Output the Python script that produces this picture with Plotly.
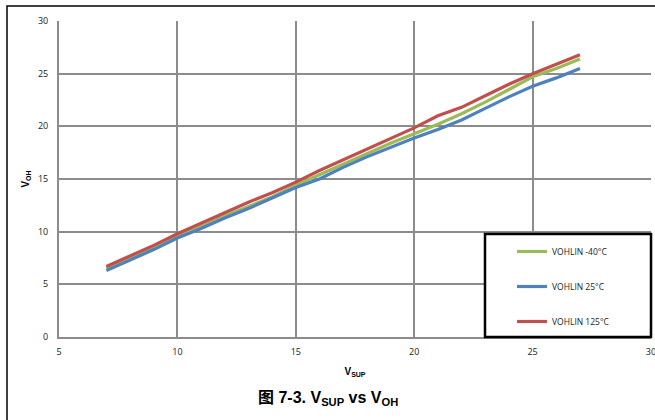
import plotly.graph_objects as go

v_sup = [7, 8, 9, 10, 11, 12, 13, 14, 15, 16, 17, 18, 19, 20, 21, 22, 23, 24, 25, 26, 27]
voh_m40 = [6.5, 7.5, 8.5, 9.6, 10.5, 11.5, 12.4, 13.3, 14.4, 15.4, 16.4, 17.4, 18.4, 19.3, 20.2, 21.2, 22.3, 23.5, 24.7, 25.5, 26.4]
voh_25 = [6.3, 7.3, 8.3, 9.4, 10.3, 11.3, 12.2, 13.2, 14.2, 15.0, 16.1, 17.1, 18.0, 18.9, 19.7, 20.6, 21.7, 22.8, 23.8, 24.6, 25.5]
voh_125 = [6.7, 7.7, 8.7, 9.8, 10.8, 11.8, 12.8, 13.7, 14.7, 15.8, 16.8, 17.8, 18.8, 19.85, 21.0, 21.8, 22.9, 24.0, 25.0, 25.9, 26.8]
names = ["VOHLIN -40°C", "VOHLIN 25°C", "VOHLIN 125°C"]
colors = ["#9BBB59", "#4F81BD", "#C0504D"]
x_ticks = [5, 10, 15, 20, 25, 30]
y_ticks = [0, 5, 10, 15, 20, 25, 30]

fig = go.Figure()
for i, ys in enumerate([voh_m40, voh_25, voh_125]):
    fig.add_trace(go.Scatter(x=v_sup, y=ys, mode="lines", name=names[i],
                             legendgroup=str(i),
                             line=dict(color=colors[i], width=3.2)))

L, R, T, B = 59, 4, 21, 83
W, H = 655, 420
pw, ph = W - L - R, H - T - B

def px(x):
    return (x - L) / pw

def py(y):
    return (H - B - y) / ph

tick_font = dict(family="Open Sans, Liberation Sans, sans-serif", size=9, color="#222222")
fig.update_layout(
    width=W, height=H,
    margin=dict(l=L, r=R, t=T, b=B, autoexpand=False),
    plot_bgcolor="white", paper_bgcolor="white",
    showlegend=True,
    legend=dict(x=px(512), y=py(237), xanchor="left", yanchor="top",
                bgcolor="rgba(0,0,0,0)", borderwidth=0,
                font=dict(family="Open Sans, Liberation Sans, sans-serif", size=8.5, color="#222222"),
                itemwidth=30, tracegroupgap=16),
    xaxis=dict(range=[5, 30], tickvals=x_ticks, showgrid=True, gridcolor="#8C8C8C", gridwidth=2,
               showline=True, linecolor="#8C8C8C", linewidth=2, mirror=False, zeroline=False,
               automargin=False,
               ticks="", tickfont=tick_font, ticklabelstandoff=5, ticklabeloverflow="allow",
               title=dict(text="<b>V<sub>SUP</sub></b>", font=dict(family="Liberation Sans, Arial, sans-serif", size=10, color="black"), standoff=11)),
    yaxis=dict(range=[0, 30], tickvals=y_ticks, showgrid=True, gridcolor="#8C8C8C", gridwidth=2,
               showline=True, linecolor="#8C8C8C", linewidth=2, zeroline=False,
               automargin=False,
               ticks="", tickfont=tick_font, ticklabelstandoff=7,
               title=dict(text="<b>V<sub>OH</sub></b>", font=dict(family="Liberation Sans, Arial, sans-serif", size=10, color="black"), standoff=6)),
    shapes=[
        dict(type="rect", xref="paper", yref="paper", x0=px(7), x1=px(700), y0=py(6), y1=py(460),
             line=dict(color="black", width=1.5), fillcolor="rgba(0,0,0,0)", layer="below"),
        dict(type="rect", xref="paper", yref="paper", x0=px(485), x1=px(651), y0=py(234), y1=py(337),
             line=dict(color="black", width=2.5), fillcolor="white", layer="above"),
    ],
    annotations=[
        dict(text="<b>图 7-3. V<sub>SUP</sub> vs V<sub>OH</sub></b>", xref="paper", yref="paper",
             x=px(328), y=py(398), xanchor="center", yanchor="middle", showarrow=False,
             font=dict(family="Liberation Sans, Noto Sans CJK SC, sans-serif", size=16, color="black")),
    ],
)
fig.write_html("out.html")
